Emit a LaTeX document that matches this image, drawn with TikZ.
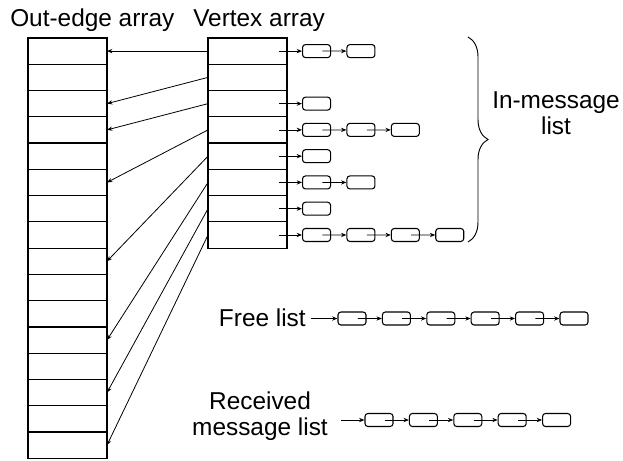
\documentclass[tikz,border=0pt]{standalone}
\usepackage{fontspec}
\setmainfont{Liberation Sans}
\usetikzlibrary{arrows.meta}
\usetikzlibrary{calc}
\usetikzlibrary{decorations.pathreplacing}
\usetikzlibrary{positioning}
\tikzstyle{cell} = [draw,rectangle,line width=0.9pt,minimum width=59.25pt,minimum height=19.7pt,inner sep=0pt,outer sep=0pt]
\tikzstyle{msg} = [draw,rectangle,rounded corners=2.2pt,line width=0.8pt,minimum width=21pt,minimum height=9.75pt,inner sep=0pt]
\tikzstyle{connector} = [-{Stealth[length=4pt,width=3.2pt]},line width=0.6pt]
\tikzstyle{title} = [font=\fontsize{18.3}{19.5}\selectfont,inner sep=0pt]

\begin{document}
\begin{tikzpicture}[x=0.75pt,y=-0.75pt]
	\useasboundingbox (0,0) rectangle (623,460);

	% the two arrays
	\node[cell] (oe1) at (67.5,51.1) {};
	\foreach \i [remember=\i as \j (initially 1)] in {2,...,16}
		\node[cell, below=0pt of oe\j] (oe\i) {};

	\node[cell] (v1) at (247.5,51.1) {};
	\foreach \i [remember=\i as \j (initially 1)] in {2,...,8}
		\node[cell, below=0pt of v\j] (v\i) {};

	\node[title, anchor=base west] (oetitle) at (10,27) {Out-edge array};
	\node[title, anchor=base west] (vtitle) at (193,27) {Vertex array};

	% vertex -> out-edge pointers
	\foreach \s/\t in {1/1,2/3,3/4,4/6,5/9,6/12,7/14,8/16}
		\draw[connector] (v\s.west) -- (oe\t.east);

	% in-message lists
	\foreach \v/\n in {1/2,3/1,4/3,5/1,6/2,7/1,8/4} {
		\node[msg, right=11.25pt of v\v] (m\v-1) {};
		\draw[connector] ($(v\v.east)+(-8,0)$) -- (m\v-1.west);
		\ifnum\n>1
		\foreach \k [remember=\k as \p (initially 1)] in {2,...,\n} {
			\node[msg, right=11.5pt of m\v-\p] (m\v-\k) {};
			\draw[connector] ($(m\v-\p.west)!0.7!(m\v-\p.east)$) -- (m\v-\k.west);
		}
		\fi
	}

	\coordinate (bt) at (468,37);
	\coordinate (bb) at (468,242);
	\draw[decorate, decoration={brace, amplitude=15pt}, line width=0.7pt] (bt) -- (bb);
	\node[title, align=center] (inlabel) at (556,113) {In-message\\list};

	% free list
	\node[msg] (f1) at (352,318.5) {};
	\foreach \k [remember=\k as \p (initially 1)] in {2,...,6} {
		\node[msg, right=11.5pt of f\p] (f\k) {};
		\draw[connector] ($(f\p.west)!0.7!(f\p.east)$) -- (f\k.west);
	}
	\node[title, anchor=base east] (free) at (306,326) {Free list};
	\coordinate[left=19.5pt of f1] (fin);
	\draw[connector] (fin) -- (f1.west);

	% received message list
	\node[msg] (r1) at (379,420) {};
	\foreach \k [remember=\k as \p (initially 1)] in {2,...,5} {
		\node[msg, right=11.5pt of r\p] (r\k) {};
		\draw[connector] ($(r\p.west)!0.7!(r\p.east)$) -- (r\k.west);
	}
	\node[title, align=center] (recv) at (260,416) {Received\\message list};
	\coordinate[left=17.25pt of r1] (rin);
	\draw[connector] (rin) -- (r1.west);
\end{tikzpicture}
\end{document}
